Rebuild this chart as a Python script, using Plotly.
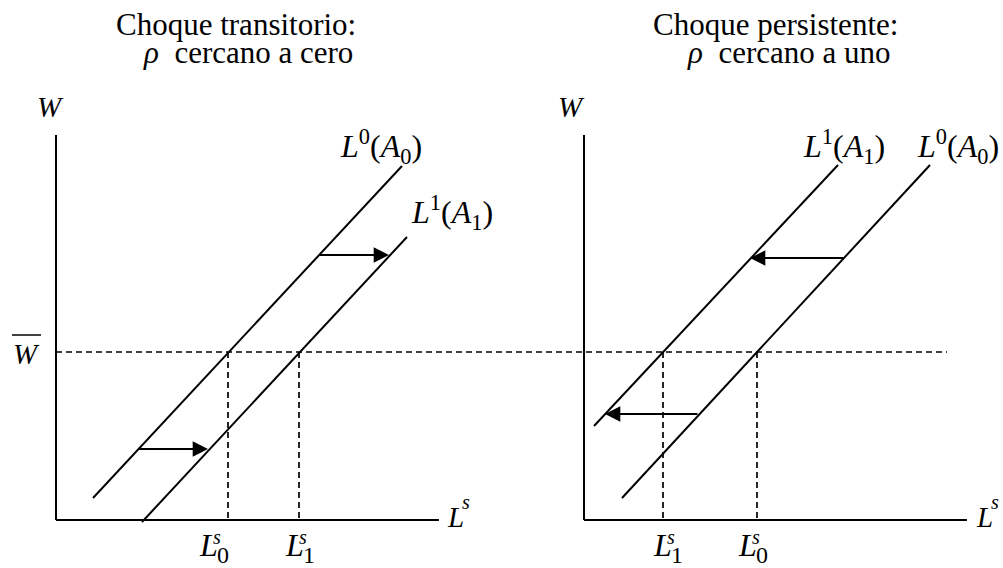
import plotly.graph_objects as go

FONT = "Liberation Serif, Times New Roman, serif"

# ---- diagram data (panel units: x right of the W axis, y above the L^s axis) ----
origin_left = 56          # x position of left panel W-axis
origin_right = 584        # x position of right panel W-axis
axis_x_len = 383
axis_y_len = 385
w_bar = 168               # fixed wage level W-bar
w_bar_line_len = 891      # dashed W-bar line (starts at left origin)

# Left panel: transitory shock (rho close to 0)
left_L0_x = [37, 346]
left_L0_y = [22, 354]
left_L1_x = [86, 351]
left_L1_y = [-2, 283]
left_Ls = [172, 243]                 # L0s, L1s
left_arrow_tail_x = [262, 81]
left_arrow_head_x = [333, 152]
left_arrow_y = [265, 71]

# Right panel: persistent shock (rho close to 1)
right_L1_x = [10, 254]
right_L1_y = [94, 355]
right_L0_x = [38, 346]
right_L0_y = [22, 355]
right_Ls = [79, 173]                 # L1s, L0s
right_arrow_tail_x = [261, 115]
right_arrow_head_x = [166, 21]
right_arrow_y = [262, 106]

fig = go.Figure()


def line(xs, ys, dash=None, width=2.0):
    fig.add_trace(go.Scatter(x=xs, y=ys, mode="lines", hoverinfo="skip",
                             line=dict(color="black", width=width, dash=dash),
                             showlegend=False))


for ox in (origin_left, origin_right):
    line([ox, ox], [0, axis_y_len])
    line([ox, ox + axis_x_len], [0, 0])

# dashed W-bar line
line([origin_left, origin_left + w_bar_line_len], [w_bar, w_bar], dash="6px,4px", width=1.7)

# supply curves
for ox, xs, ys in [(origin_left, left_L0_x, left_L0_y), (origin_left, left_L1_x, left_L1_y),
                   (origin_right, right_L1_x, right_L1_y), (origin_right, right_L0_x, right_L0_y)]:
    line([ox + v for v in xs], ys)

# dashed verticals
for ox, ls in [(origin_left, left_Ls), (origin_right, right_Ls)]:
    for v in ls:
        line([ox + v, ox + v], [w_bar, 0], dash="6px,4px", width=1.7)

annotations = []
# arrows
for ox, tails, heads, ys in [(origin_left, left_arrow_tail_x, left_arrow_head_x, left_arrow_y),
                             (origin_right, right_arrow_tail_x, right_arrow_head_x, right_arrow_y)]:
    for t, h, y in zip(tails, heads, ys):
        annotations.append(dict(x=ox + h, y=y, ax=ox + t, ay=y, xref="x", yref="y",
                                axref="x", ayref="y", text="", showarrow=True,
                                arrowhead=2, arrowsize=1.7, arrowwidth=1.8,
                                arrowcolor="black", standoff=0, startstandoff=0))


def txt(x_px, y_px, s, size, italic=False):
    if italic:
        s = "<i>" + s + "</i>"
    annotations.append(dict(x=x_px, y=520 - y_px, xref="x", yref="y", text=s,
                            showarrow=False, xanchor="center", yanchor="middle",
                            font=dict(family=FONT, size=size, color="black")))


NB = "\u00a0"
# titles
txt(236, 24, "Choque transitorio:", 31)
txt(248, 52, "<i>ρ</i>" + NB + NB + "cercano a cero", 31)
txt(775, 24, "Choque persistente:", 31)
txt(789, 52, "<i>ρ</i>" + NB + NB + "cercano a uno", 31)

# axis letters
txt(50, 107, "W", 29, True)
txt(571, 107, "W", 29, True)
txt(26, 354, "W", 29, True)
fig.add_shape(type="line", x0=12, x1=41, y0=520 - 335, y1=520 - 335, xref="x", yref="y",
              line=dict(color="black", width=1.5))

for lx, sx in [(455, 466), (984, 995)]:
    txt(lx, 517, "L", 29, True)
    txt(sx, 502, "s", 20, True)

# equilibrium labels
for lx, d in [(208, "0"), (294, "1"), (662, "1"), (747, "0")]:
    txt(lx, 545, "L", 32, True)
    txt(lx + 9, 537, "s", 20, True)
    txt(lx + 15, 555, d, 24)


def curve_label(cx, cy, sup, sub):
    txt(cx, cy, "<i>L</i><sup>" + sup + "</sup>(<i>A</i><sub>" + sub + "</sub>)", 32)


curve_label(381, 146, "0", "0")
curve_label(452, 212, "1", "1")
curve_label(844, 146, "1", "1")
curve_label(958, 146, "0", "0")

fig.update_layout(
    width=1003, height=568, margin=dict(l=0, r=0, t=0, b=0),
    paper_bgcolor="white", plot_bgcolor="white",
    xaxis=dict(range=[0, 1003], visible=False, fixedrange=True),
    yaxis=dict(range=[-48, 520], visible=False, fixedrange=True),
    annotations=annotations, showlegend=False,
)

fig.write_html("out.html", config={"displayModeBar": False},
               post_script="document.body.style.margin='0';document.body.style.overflow='hidden';")
